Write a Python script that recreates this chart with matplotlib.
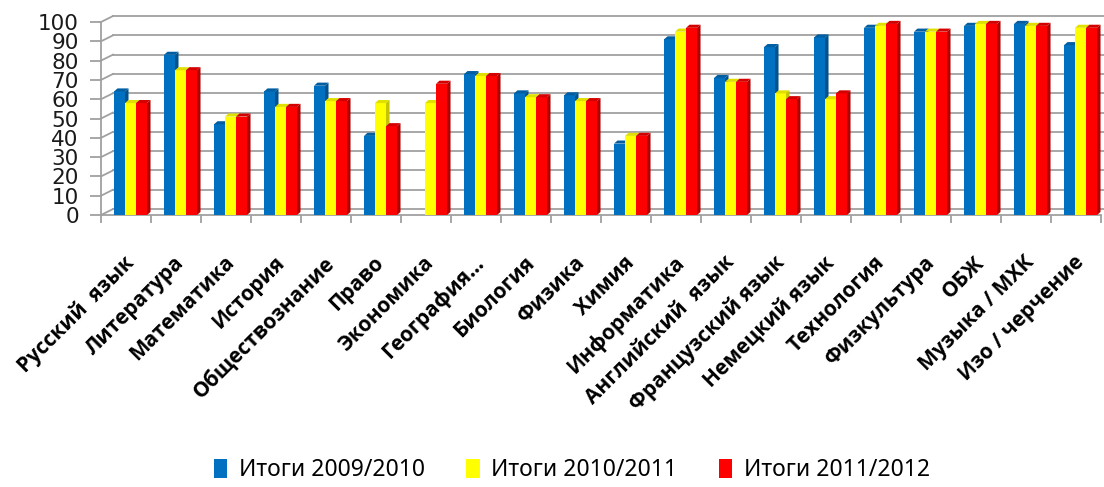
import matplotlib
matplotlib.use("Agg")
import matplotlib.pyplot as plt
from matplotlib.patches import Polygon, Patch
import numpy as np

categories = ["Русский  язык", "Литература", "Математика", "История", "Обществознание",
              "Право", "Экономика", "География…", "Биология", "Физика", "Химия",
              "Информатика", "Английский  язык", "Французский язык", "Немецкий язык",
              "Технология", "Физкультура", "ОБЖ", "Музыка / МХК", "Изо / черчение"]
series_names = ["Итоги 2009/2010", "Итоги 2010/2011", "Итоги 2011/2012"]
v_2009 = [64, 83, 47, 64, 67, 41, np.nan, 73, 63, 62, 37, 91, 71, 87, 92, 97, 95, 98, 99, 88]
v_2010 = [58, 75, 51, 56, 59, 58, 58, 72, 61, 59, 41, 95, 69, 63, 60, 98, 95, 99, 98, 97]
v_2011 = [58, 75, 51, 56, 59, 46, 68, 72, 61, 59, 41, 97, 69, 60, 63, 99, 95, 99, 98, 97]

front = ["#0070C0", "#FFFF00", "#FF0000"]
side = ["#00528c", "#c4c400", "#b00000"]
top = ["#005fa3", "#e0e000", "#d40000"]

fig = plt.figure(figsize=(11.04, 4.87), dpi=100)
ax = fig.add_axes([0.0915, 0.5585, 0.9058, 0.3963])
ax.set_xlim(-0.5, 19.5)
ax.set_ylim(0, 100)

# back wall offset (3d look)
wdx, wdy = 0.24, 3.1
grid_c = "#a0a0a0"
for v in range(0, 101, 10):
    ax.plot([-0.5, -0.5 + wdx], [v, v + wdy], color=grid_c, lw=1.3, clip_on=False, zorder=1)
    ax.plot([-0.5 + wdx, 19.55], [v + wdy, v + wdy], color=grid_c, lw=1.3, clip_on=False, zorder=1)
ax.plot([-0.5, 19.5], [0, 0], color=grid_c, lw=1.3, clip_on=False, zorder=1)

# bars: front face + side + top
w = 0.22
ddx, ddy = 0.07, 1.6
x = np.arange(len(categories))
for k, vals in enumerate([v_2009, v_2010, v_2011]):
    for i, h in enumerate(vals):
        if np.isnan(h):
            continue
        x0 = i - 0.24 + k * w
        x1 = x0 + w
        z = 3 + i * 3 + k
        ax.add_patch(Polygon([(x0, 0), (x1, 0), (x1, h), (x0, h)], closed=True,
                             facecolor=front[k], lw=0, zorder=z, clip_on=False))
        ax.add_patch(Polygon([(x1, 0), (x1 + ddx, ddy), (x1 + ddx, h + ddy), (x1, h)], closed=True,
                             facecolor=side[k], lw=0, zorder=z, clip_on=False))
        ax.add_patch(Polygon([(x0, h), (x0 + ddx, h + ddy), (x1 + ddx, h + ddy), (x1, h)], closed=True,
                             facecolor=top[k], lw=0, zorder=z, clip_on=False))

for s in ["top", "right", "bottom"]:
    ax.spines[s].set_visible(False)
ax.spines["left"].set_color(grid_c)
ax.spines["left"].set_linewidth(1.3)

ax.set_yticks(range(0, 101, 10))
ax.tick_params(axis="y", length=8, width=1.3, color=grid_c, pad=8, labelsize=15.5, labelcolor="#1a1a1a")

ax.set_xticks(x + 0.1)
ax.set_xticklabels(categories, rotation=45, ha="right", va="center", rotation_mode="anchor",
                   fontsize=15, fontweight="bold", family=["Open Sans", "DejaVu Sans"])
ax.tick_params(axis="x", which="major", length=0, pad=32)
ax.set_xticks(np.arange(-0.5, 20, 1), minor=True)
ax.tick_params(axis="x", which="minor", length=6, width=1.3, color=grid_c, direction="out")

handles = [Patch(facecolor=c, edgecolor="none") for c in front]
fig.legend(handles, series_names, loc="center", bbox_to_anchor=(0.518, 0.035), ncol=3,
           frameon=False, handlelength=0.6, handleheight=0.9, handletextpad=0.5, columnspacing=1.8,
           prop={"family": ["Noto Sans", "DejaVu Sans"], "size": 16.5})

fig.savefig("out.png", dpi=100)
